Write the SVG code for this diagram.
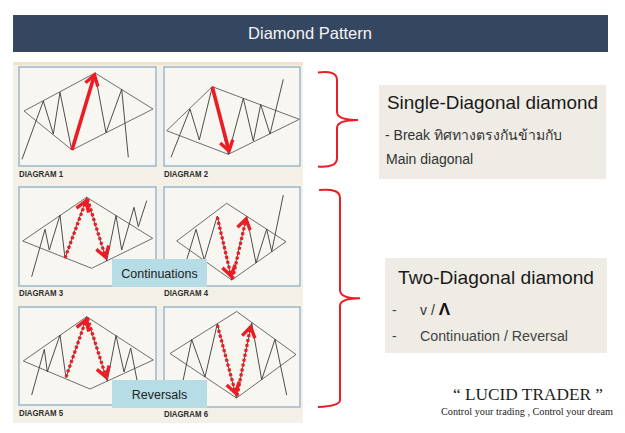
<svg xmlns="http://www.w3.org/2000/svg" width="625" height="433" viewBox="0 0 625 433">
<defs>
<style>
.panel{fill:#f8f6f0;stroke:#86aac4;stroke-width:1.2}
.dia{fill:none;stroke:#4a4a4a;stroke-width:0.8}
.price{fill:none;stroke:#3a3a3a;stroke-width:0.9;stroke-linejoin:miter}
.red{fill:none;stroke:#ec1c24;stroke-width:3.6}
.dot{fill:none;stroke:#ec1c24;stroke-width:3.2;stroke-dasharray:3 2}
.lbl{font-family:"Liberation Sans Narrow","Liberation Sans",Arial,sans-serif;font-weight:bold;font-size:9.5px;fill:#2e2e2e}
.tag{fill:#b6dce6}
.tagt{font-family:"Liberation Sans",Arial,sans-serif;font-size:12.5px;fill:#222;text-anchor:middle}
.brace{fill:none;stroke:#ec1c24;stroke-width:2}
.box{fill:#eeece5}
.sans{font-family:"Liberation Sans",Arial,"Noto Sans",sans-serif}
</style>
<marker id="hd" markerUnits="userSpaceOnUse" viewBox="0 0 16 16" markerWidth="16" markerHeight="16" refX="12.5" refY="8" orient="auto">
<path d="M2.5,1.5 L12.5,8 L2.5,14.5" fill="none" stroke="#ec1c24" stroke-width="3.4"/>
</marker>
</defs>
<rect width="625" height="433" fill="#ffffff"/>

<g id="header">
<rect x="13" y="15" width="595" height="37" fill="#354660"/>
<text x="310" y="39" class="sans" font-size="16.5" fill="#f4f4f4" text-anchor="middle">Diamond Pattern</text>
</g>

<g id="photo">
<rect x="13" y="62" width="290" height="361" fill="#f3f0e7"/>
<rect x="13" y="62" width="290" height="3" fill="#f1e4cf"/>
</g>

<g id="diagram1">
<rect class="panel" x="19" y="67" width="137" height="99"/>
<path class="dia" d="M24,111 L95,73 L153,109 L72,150 Z"/>
<polyline class="price" points="22,159.3 43.3,101 53.3,134 60,92.3 71.7,150 95,73.3 106,132.7 121.7,89.3 128.3,157.3"/>
<path class="red" d="M72,150 L94.5,75" marker-end="url(#hd)"/>
<text class="lbl" x="19" y="177" textLength="44" lengthAdjust="spacingAndGlyphs">DIAGRAM 1</text>
</g>

<g id="diagram2">
<rect class="panel" x="164" y="67" width="136" height="99"/>
<path class="dia" d="M166.7,130.7 L212.3,86.7 L299.3,119.3 L228.3,154.3 Z"/>
<polyline class="price" points="171,157.3 190,109 199.3,140 212.3,86.7 228.3,154.3 243.3,98.3 253.3,141 260.7,104.5 270,134 283.3,79.3"/>
<path class="red" d="M212.3,87 L229,151" marker-end="url(#hd)"/>
<text class="lbl" x="164" y="177" textLength="44" lengthAdjust="spacingAndGlyphs">DIAGRAM 2</text>
</g>

<g id="diagram3">
<rect class="panel" x="19" y="187" width="137" height="99"/>
<path class="dia" d="M22.7,241 L86.7,197.3 L152.7,238.3 L91.7,268.3 Z"/>
<polyline class="price" points="31.7,276.7 45,229.3 49.3,250 60,215 65,258.3 86.7,197.3 106.7,261 116,215.5 121.7,250 134,207.3 138.3,226.7 146.7,200.7"/>
<path class="dot" d="M65,258 L86,201" marker-end="url(#hd)"/>
<path class="dot" d="M87.5,199 L105.5,257" marker-end="url(#hd)"/>
<text class="lbl" x="19" y="296" textLength="44" lengthAdjust="spacingAndGlyphs">DIAGRAM 3</text>
</g>

<g id="diagram4">
<rect class="panel" x="164" y="187" width="136" height="99"/>
<path class="dia" d="M176.7,241 L226.7,203.3 L286,241.7 L231.7,280 Z"/>
<polyline class="price" points="183.3,270.7 196,229.3 204.3,260 217.3,216 231.7,280 246.7,216.3 256,263 266.7,229 271.7,251.5 283.3,195"/>
<path class="dot" d="M217.3,217 L231,276" marker-end="url(#hd)"/>
<path class="dot" d="M232.5,279 L246,219" marker-end="url(#hd)"/>
<text class="lbl" x="164" y="296" textLength="44" lengthAdjust="spacingAndGlyphs">DIAGRAM 4</text>
</g>

<g id="diagram5">
<rect class="panel" x="19" y="307" width="137" height="98"/>
<path class="dia" d="M23.3,361 L86.7,316.7 L153.3,360 L90,389 Z"/>
<polyline class="price" points="31.7,395 44.3,349.3 47.3,371.7 60,335 66,377.7 86.7,316.7 107.3,381 116,335.5 124,372 130.7,348 138.3,386.7"/>
<path class="dot" d="M66,377 L86,320" marker-end="url(#hd)"/>
<path class="dot" d="M87.5,318 L106,377" marker-end="url(#hd)"/>
<text class="lbl" x="19" y="416" textLength="44" lengthAdjust="spacingAndGlyphs">DIAGRAM 5</text>
</g>

<g id="diagram6">
<rect class="panel" x="164" y="307" width="136" height="100"/>
<path class="dia" d="M170,353.5 L236.7,311.5 L296,354.5 L236.5,398 Z"/>
<polyline class="price" points="180,395 191.7,339.5 205,377 217.3,323.8 236.5,398 251.7,322.8 261.7,379.7 275,339.3 286.7,395"/>
<path class="dot" d="M217.3,325 L235.5,393" marker-end="url(#hd)"/>
<path class="dot" d="M237,396 L250.5,327" marker-end="url(#hd)"/>
<text class="lbl" x="164" y="417" textLength="44" lengthAdjust="spacingAndGlyphs">DIAGRAM 6</text>
</g>

<g id="continuations">
<rect class="tag" x="112" y="259" width="95" height="28"/>
<text class="tagt" x="159.5" y="277.5">Continuations</text>
</g>

<g id="reversals">
<rect class="tag" x="112" y="380" width="95" height="28"/>
<text class="tagt" x="159.5" y="398.5">Reversals</text>
</g>

<g id="connectors">
<path class="brace" d="M318,72.5 Q337,70 337,80 L337,112 Q337,120 358,120 Q337,120 337,128 L337,158 Q337,168 318,166.5"/>
<path class="brace" d="M319,190 Q340,188 340,198 L340,290 Q340,298.5 360,298.3 Q340,298.5 340,306 L340,400 Q340,406 318,407"/>
</g>

<g id="single-box">
<rect class="box" x="379" y="85" width="227" height="94"/>
<text class="sans" x="387" y="109" font-size="18.5" fill="#1a1a1a" textLength="211" lengthAdjust="spacingAndGlyphs">Single-Diagonal diamond</text>
<text class="sans" x="385" y="140" font-size="14" fill="#333">- Break ทิศทางตรงกันข้ามกับ</text>
<text class="sans" x="386" y="164" font-size="14" fill="#333">Main diagonal</text>
</g>

<g id="two-box">
<rect class="box" x="385" y="258" width="222" height="95"/>
<text class="sans" x="398" y="284" font-size="19" fill="#1a1a1a" textLength="196" lengthAdjust="spacingAndGlyphs">Two-Diagonal diamond</text>
<text class="sans" x="392" y="315" font-size="14" fill="#444">-</text>
<text class="sans" x="420" y="315" font-size="14" fill="#333">v / <tspan font-weight="bold" font-size="17" fill="#111">Λ</tspan></text>
<text class="sans" x="392" y="341" font-size="14" fill="#444">-</text>
<text class="sans" x="420" y="341" font-size="14" fill="#444" textLength="148" lengthAdjust="spacingAndGlyphs">Continuation  / Reversal</text>
</g>

<g id="brand">
<text x="528" y="400" font-family="'Liberation Serif','Times New Roman',serif" font-size="17" fill="#1e1e1e" text-anchor="middle" textLength="150" lengthAdjust="spacingAndGlyphs">“ LUCID TRADER ”</text>
<text x="441" y="415" font-family="'Liberation Serif','Times New Roman',serif" font-size="9.5" fill="#222" textLength="172" lengthAdjust="spacingAndGlyphs">Control your trading , Control your dream</text>
</g>
</svg>
